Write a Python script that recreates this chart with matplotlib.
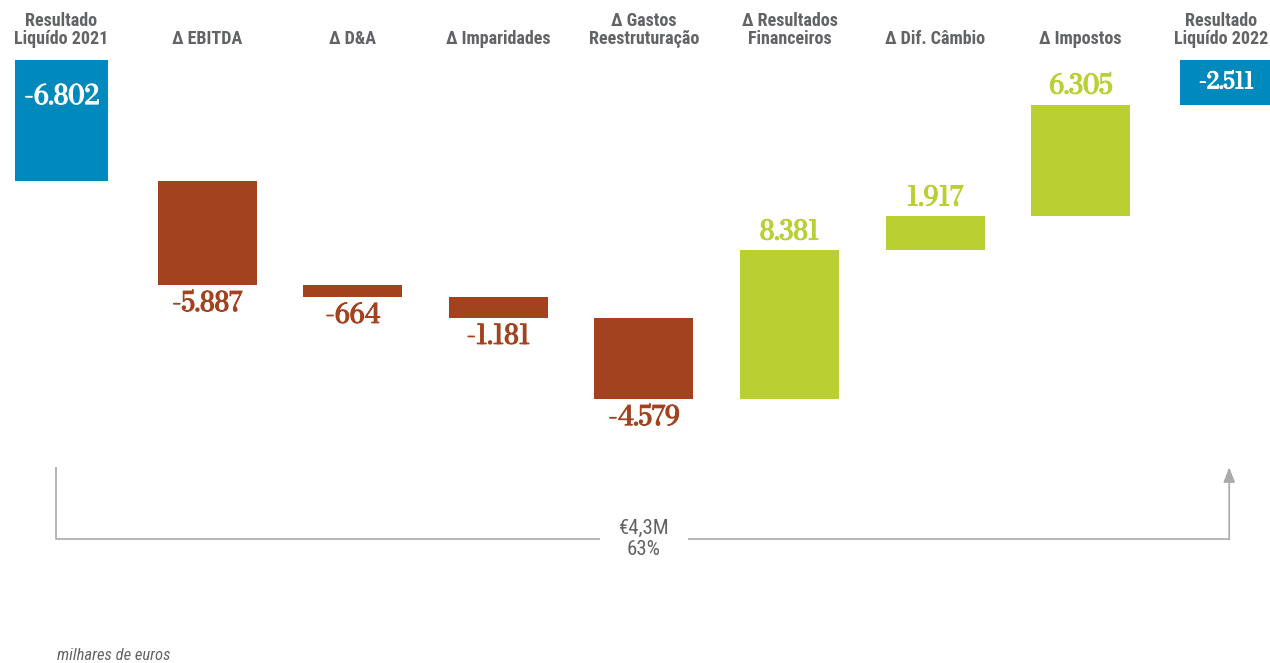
import numpy as np
import matplotlib
matplotlib.use("Agg")
import matplotlib.pyplot as plt
import matplotlib.patheffects as pe

# valores (milhares de euros)
categories = ["Resultado\nLiquído 2021", "Δ EBITDA", "Δ D&A", "Δ Imparidades",
              "Δ Gastos\nReestruturação", "Δ Resultados\nFinanceiros",
              "Δ Dif. Câmbio", "Δ Impostos", "Resultado\nLiquído 2022"]
start_value = -6802
deltas = [-5887, -664, -1181, -4579, 8381, 1917, 6305]
end_value = -2511

BLUE = "#0089bd"
RED = "#a2421f"
GREEN = "#bacf32"
GREY = "#626366"
LINE_GREY = "#a9aaac"

SANS = ["Roboto Condensed", "Liberation Sans Narrow", "Liberation Sans", "DejaVu Sans"]
SERIF = ["Bodoni Moda", "Libre Bodoni", "Liberation Serif", "DejaVu Serif"]


def fmt(v):
    return f"{v:,}".replace(",", ".")


def heavy(color):
    # the serif is a variable font drawn at its regular weight, thicken it a bit
    return [pe.withStroke(linewidth=0.9, foreground=color)]


fig = plt.figure(figsize=(12.7, 6.63), dpi=100)
ax = fig.add_axes([0, 0, 1, 1])
ax.set_axis_off()

# pixel mapping: x=0 -> 61.5px, step 145.6px; y=0 -> 60px from top, 17.75px per 1000
px_x = 145.6
px_y = 0.01775
ax.set_xlim(-61.5 / px_x, (1270 - 61.5) / px_x)
ax.set_ylim(-(663 - 60) / px_y, 60 / px_y)

x = np.arange(len(categories))

# total bars
ax.bar([x[0], x[-1]], [start_value, end_value], width=0.64, color=BLUE)

# delta bars
cum = np.cumsum([start_value] + deltas)
bottoms = cum[:-1]
for i, d in enumerate(deltas):
    color = GREEN if d > 0 else RED
    ax.bar(x[i + 1], d, bottom=bottoms[i], width=0.68, color=color)
    off = 13 if d > 0 else -13.5
    ax.annotate(fmt(d), (x[i + 1], bottoms[i] + d), xytext=(0, off),
                textcoords="offset points", ha="center", va="center",
                fontsize=19, fontweight="bold", family=SERIF, color=color,
                path_effects=heavy(color))

# labels inside blue bars
ax.text(x[0], max(start_value / 2, -37 / px_y), fmt(start_value), ha="center",
        va="center", fontsize=19, fontweight="bold", family=SERIF, color="white",
        path_effects=heavy("white"))
ax.text(x[-1], max(end_value / 2, -37 / px_y), fmt(end_value), ha="center",
        va="center", fontsize=16, fontweight="bold", family=SERIF, color="white",
        path_effects=heavy("white"))

# category headers
headers = []
for xi, cat in zip(x, categories):
    headers.append(ax.text(xi, 12 / px_y, cat, ha="center", va="bottom", fontsize=13,
                           fontweight="bold", family=SANS, color=GREY, linespacing=1.0))

# bracket with arrow
low = cum.min()
y_top = low - 68 / px_y
y_bot = low - 140 / px_y
ax.plot([x[0] - 0.04, x[0] - 0.04, x[-1] + 0.02], [y_top, y_bot, y_bot],
        color=LINE_GREY, lw=1.2, solid_capstyle="butt")
ax.annotate("", xy=(x[-1] + 0.02, y_top), xytext=(x[-1] + 0.02, y_bot),
            arrowprops=dict(arrowstyle="-|>,head_length=0.9,head_width=0.35",
                            color=LINE_GREY, lw=1.2, shrinkA=0, shrinkB=0))
gain = end_value - start_value
gain_txt = f"€{gain / 1000:.1f}M".replace(".", ",") + f"\n{gain / abs(start_value):.0%}"
ax.text((x[0] + x[-1]) / 2, y_bot, gain_txt, ha="center", va="center",
        fontsize=15, family=SANS, color=GREY, linespacing=1.15,
        bbox=dict(facecolor="white", edgecolor="none", boxstyle="square,pad=0.9"))

fig.text(57 / 1270, 1 - 656 / 663, "milhares de euros", ha="left", va="center",
         fontsize=12, style="italic", family=SANS, color=GREY)

# keep headers inside the figure: nudge left, shrink only if still too wide
renderer = fig.canvas.get_renderer()
for t in headers:
    bb = t.get_window_extent(renderer)
    over = bb.x1 - (fig.bbox.width - 2)
    if over > 0:
        t.set_x(t.get_position()[0] - over / px_x)
    while t.get_window_extent(renderer).x0 < 1 and t.get_fontsize() > 8:
        t.set_fontsize(t.get_fontsize() - 0.5)

fig.savefig("out.png", dpi=100)
